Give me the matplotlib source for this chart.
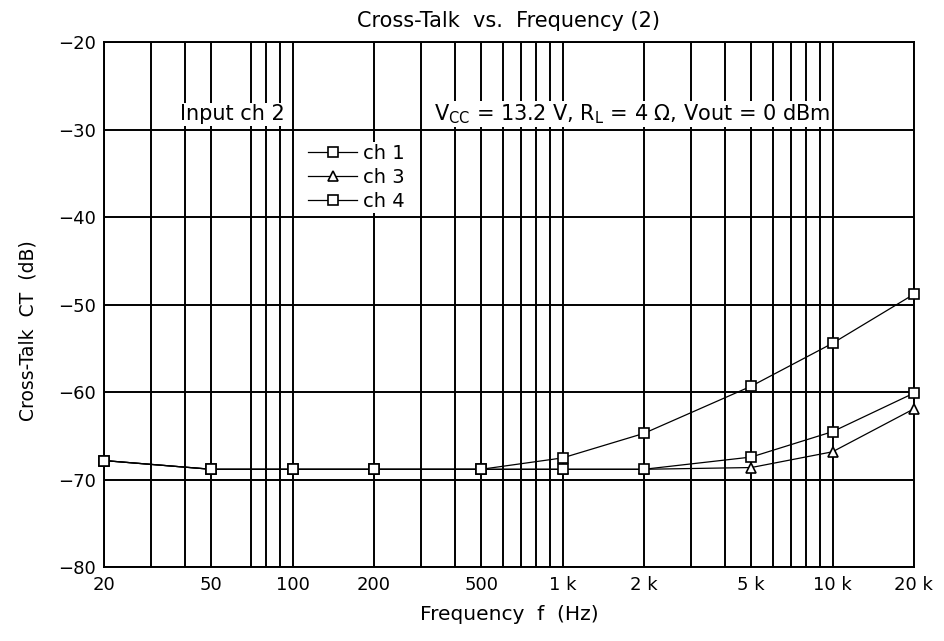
import matplotlib.pyplot as plt
from matplotlib.ticker import FixedLocator, NullFormatter

plt.rcParams['font.family'] = ['DejaVu Sans']

freq = [20, 50, 100, 200, 500, 1000, 2000, 5000, 10000, 20000]
ch1 = [-67.8, -68.8, -68.8, -68.8, -68.8, -67.5, -64.7, -59.3, -54.4, -48.8]
ch3 = [-67.8, -68.8, -68.8, -68.8, -68.8, -68.8, -68.8, -68.6, -66.8, -61.9]
ch4 = [-67.8, -68.8, -68.8, -68.8, -68.8, -68.8, -68.8, -67.4, -64.5, -60.1]

major_ticks = [20, 50, 100, 200, 500, 1000, 2000, 5000, 10000, 20000]
major_labels = ['20', '50', '100', '200', '500', '1 k', '2 k', '5 k', '10 k', '20 k']
minor_ticks = [30, 40, 70, 80, 90, 300, 400, 600, 700, 800, 900,
               3000, 4000, 6000, 7000, 8000, 9000]
y_ticks = [-80, -70, -60, -50, -40, -30, -20]

fig = plt.figure(figsize=(9.44, 6.41), dpi=100)
ax = fig.add_axes([0.110, 0.115, 0.858, 0.819])

for vals, mk, name in [(ch1, 's', 'ch 1'), (ch3, '^', 'ch 3'), (ch4, 's', 'ch 4')]:
    ax.plot(freq, vals, color='black', lw=0.9, marker=mk, ms=7, mfc='white',
            mec='black', mew=1.2, label=name, zorder=3, clip_on=False)

ax.set_xscale('log')
ax.set_xlim(20, 20000)
ax.set_ylim(-80, -20)
ax.xaxis.set_major_locator(FixedLocator(major_ticks))
ax.set_xticklabels(major_labels)
ax.xaxis.set_minor_locator(FixedLocator(minor_ticks))
ax.xaxis.set_minor_formatter(NullFormatter())
ax.set_yticks(y_ticks)
ax.set_yticklabels(['\u221280', '\u221270', '\u221260', '\u221250',
                    '\u221240', '\u221230', '\u221220'])
ax.tick_params(which='both', length=0, labelsize=13, pad=6)
ax.grid(True, which='both', color='black', lw=1.4)
ax.set_axisbelow(True)
for s in ax.spines.values():
    s.set_linewidth(1.4)

ax.set_title('Cross-Talk  vs.  Frequency (2)', fontsize=15, pad=11)
ax.set_xlabel('Frequency  f  (Hz)', fontsize=14.5, labelpad=8)
ax.set_ylabel('Cross-Talk  CT  (dB)', fontsize=13.5)
ax.yaxis.set_label_coords(-0.082, 0.45)

box = dict(facecolor='white', edgecolor='none', pad=1)
ax.text(0.159, 0.863, 'Input ch 2', transform=ax.transAxes, fontsize=15,
        ha='center', va='center', bbox=box, zorder=4)
ax.text(0.652, 0.863, r'V$_{\mathregular{CC}}$ = 13.2 V, R$_{\mathregular{L}}$ = 4 $\Omega$, Vout = 0 dBm',
        transform=ax.transAxes, fontsize=15, ha='center', va='center',
        bbox=box, zorder=4)

leg = ax.legend(loc='upper left', bbox_to_anchor=(0.25, 0.81), frameon=True,
                fontsize=14, handlelength=2.5, handletextpad=0.3,
                labelspacing=0.25, borderpad=0.1, borderaxespad=0)
leg.get_frame().set_edgecolor('none')
leg.get_frame().set_facecolor('white')
leg.get_frame().set_alpha(1)
leg.get_frame().set_boxstyle('square', pad=0)

plt.savefig('out.png')
